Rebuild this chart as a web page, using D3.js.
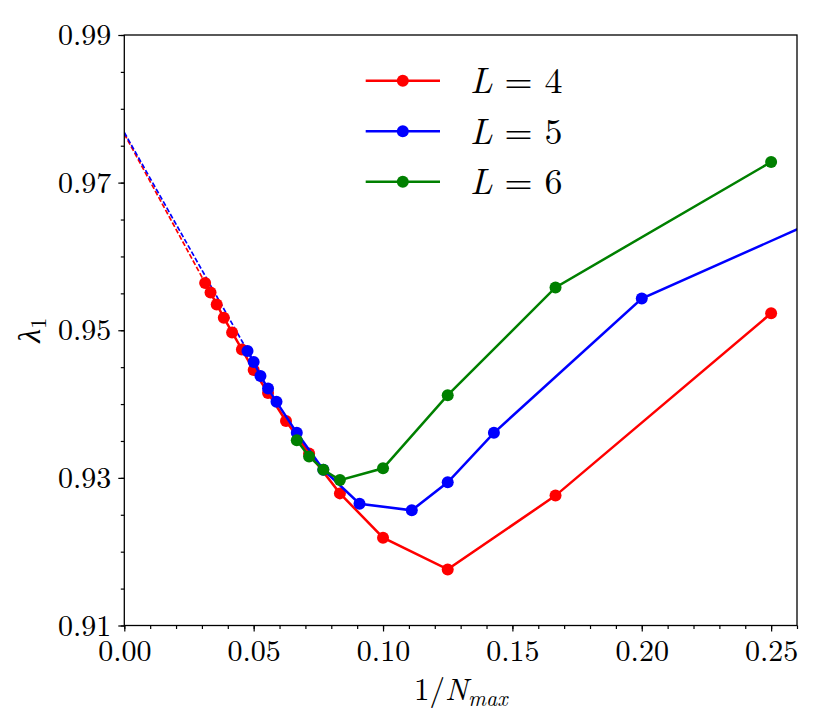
<!DOCTYPE html>
<html>
<head>
<meta charset="utf-8">
<script src="https://cdn.jsdelivr.net/npm/d3@7"></script>
<style>
  html, body { margin: 0; padding: 0; background: #fff; }
  svg { display: block; font-family: "Latin Modern Roman", "CMU Serif", "Liberation Serif", serif; }
</style>
</head>
<body>
<div class="chart"></div>
<script>
// values
const xL4 = [1/4, 1/6, 1/8, 1/10, 1/12, 1/14, 1/16, 1/18, 1/20, 1/22, 1/24, 1/26, 1/28, 1/30, 1/32]
const yL4 = [0.9523, 0.9276, 0.9176, 0.9219, 0.9279, 0.9333, 0.9377, 0.9415, 0.9446, 0.9474, 0.9497, 0.9517, 0.9535, 0.9551, 0.9564]

const xL5 = [1/3, 1/5, 1/7, 1/8, 1/9, 1/11, 1/13, 1/15, 1/17, 1/18, 1/19, 1/20, 1/21]
const yL5 = [0.9751, 0.9543, 0.9361, 0.9294, 0.9256, 0.9265, 0.9311, 0.9361, 0.9403, 0.9421, 0.9438, 0.9457, 0.9472]

const xL6 = [1/4, 1/6, 1/8, 1/10, 1/12, 1/13, 1/14, 1/15]
const yL6 = [0.9728, 0.9558, 0.9412, 0.9313, 0.9297, 0.9311, 0.9329, 0.9351]

// extrapolation to 1/N_max -> 0 (dashed)
const fitL4 = [[0, 0.9766], [1/32, 0.9564]]
const fitL5 = [[0, 0.9768], [1/21, 0.9472]]

const xTicks = [0, 0.05, 0.10, 0.15, 0.20, 0.25]
const yTicks = [0.91, 0.93, 0.95, 0.97, 0.99]
const legendLabels = ['4', '5', '6']

const W = 830, H = 712
const margin = { left: 124.3, right: 33, top: 35, bottom: 86.5 }

const svg = d3.select('.chart')
    .append('svg')
    .attr('width', W)
    .attr('height', H)

const x = d3.scaleLinear().domain([0, 0.26]).range([margin.left, W - margin.right])
const y = d3.scaleLinear().domain([0.91, 0.99]).range([H - margin.bottom, margin.top])

svg.append('clipPath').attr('id', 'clip')
    .append('rect')
    .attr('x', x(0)).attr('y', y(0.99))
    .attr('width', x(0.26) - x(0)).attr('height', y(0.91) - y(0.99))

const plot = svg.append('g').attr('clip-path', 'url(#clip)')

const series = [
    { xs: xL4, ys: yL4, fit: fitL4, color: '#ff0000' },
    { xs: xL5, ys: yL5, fit: fitL5, color: '#0000ff' },
    { xs: xL6, ys: yL6, fit: null, color: '#008000' }
]

const line = d3.line().x(d => x(d[0])).y(d => y(d[1]))

// dashed fits first, underneath
series.forEach(s => {
    if (!s.fit) return
    plot.append('path')
        .attr('d', line(s.fit))
        .attr('fill', 'none')
        .attr('stroke', s.color)
        .attr('stroke-width', 1.7)
        .attr('stroke-dasharray', '5,2.2')
})

series.forEach(s => {
    const pts = s.xs.map((v, i) => [v, s.ys[i]])
    const g = plot.append('g')
    g.append('path')
        .attr('d', line(pts))
        .attr('fill', 'none')
        .attr('stroke', s.color)
        .attr('stroke-width', 2.5)
    g.selectAll('circle')
        .data(pts)
        .enter()
        .append('circle')
        .attr('cx', d => x(d[0]))
        .attr('cy', d => y(d[1]))
        .attr('r', 6)
        .attr('fill', s.color)
})

// axes: major + minor ticks pointing outward
const fmt = d3.format('.2f')
svg.append('g')
    .attr('transform', `translate(0,${y(0.91)})`)
    .call(d3.axisBottom(x).tickValues(xTicks).tickFormat(fmt).tickSize(6).tickPadding(8))
svg.append('g')
    .attr('transform', `translate(0,${y(0.91)})`)
    .call(d3.axisBottom(x).tickValues(d3.range(0, 0.2601, 0.01)).tickFormat('').tickSize(3.5))

svg.append('g')
    .attr('transform', `translate(${x(0)},0)`)
    .call(d3.axisLeft(y).tickValues(yTicks).tickFormat(fmt).tickSize(6).tickPadding(7))
svg.append('g')
    .attr('transform', `translate(${x(0)},0)`)
    .call(d3.axisLeft(y).tickValues(d3.range(0.91, 0.9901, 0.005)).tickFormat('').tickSize(3.5))

// d3 axes put sans-serif on their groups; drop it so the serif face applies
svg.selectAll('g').attr('font-family', null).attr('font-size', null)
svg.selectAll('.domain').remove()
svg.selectAll('.tick line').attr('stroke', '#000').attr('stroke-width', 1.2)
svg.selectAll('.tick text')
    .attr('font-size', 30)
    .attr('fill', '#000')

// frame
svg.append('rect')
    .attr('x', x(0)).attr('y', y(0.99))
    .attr('width', x(0.26) - x(0)).attr('height', y(0.91) - y(0.99))
    .attr('fill', 'none')
    .attr('stroke', '#000')
    .attr('stroke-width', 1.3)

// x label: 1/N_max
const xl = svg.append('text')
    .attr('x', (x(0) + x(0.26)) / 2)
    .attr('y', 700)
    .attr('text-anchor', 'middle')
    .attr('font-size', 31)
xl.append('tspan').text('1/')
xl.append('tspan').attr('font-style', 'italic').text('N')
xl.append('tspan').attr('font-style', 'italic').attr('font-size', 22).attr('dy', 6).text('max')

// y label: lambda_1
const yl = svg.append('text')
    .attr('transform', `translate(40,${(y(0.91) + y(0.99)) / 2}) rotate(-90)`)
    .attr('text-anchor', 'middle')
    .attr('font-size', 32)
yl.append('tspan').attr('font-style', 'italic').text('λ')
yl.append('tspan').attr('font-size', 22).attr('dy', 6).text('1')

// legend
const legend = svg.append('g')
series.forEach((s, i) => {
    const cy = 80.7 + i * 50.5
    legend.append('line')
        .attr('x1', 365.7).attr('x2', 440)
        .attr('y1', cy).attr('y2', cy)
        .attr('stroke', s.color)
        .attr('stroke-width', 2.5)
    legend.append('circle')
        .attr('cx', 402.8).attr('cy', cy)
        .attr('r', 6)
        .attr('fill', s.color)
    const t = legend.append('text')
        .attr('x', 470)
        .attr('y', cy + 12.5)
        .attr('font-size', 36)
    t.append('tspan').attr('font-style', 'italic').text('L')
    t.append('tspan').text(' = ' + legendLabels[i])
})
</script>
</body>
</html>
